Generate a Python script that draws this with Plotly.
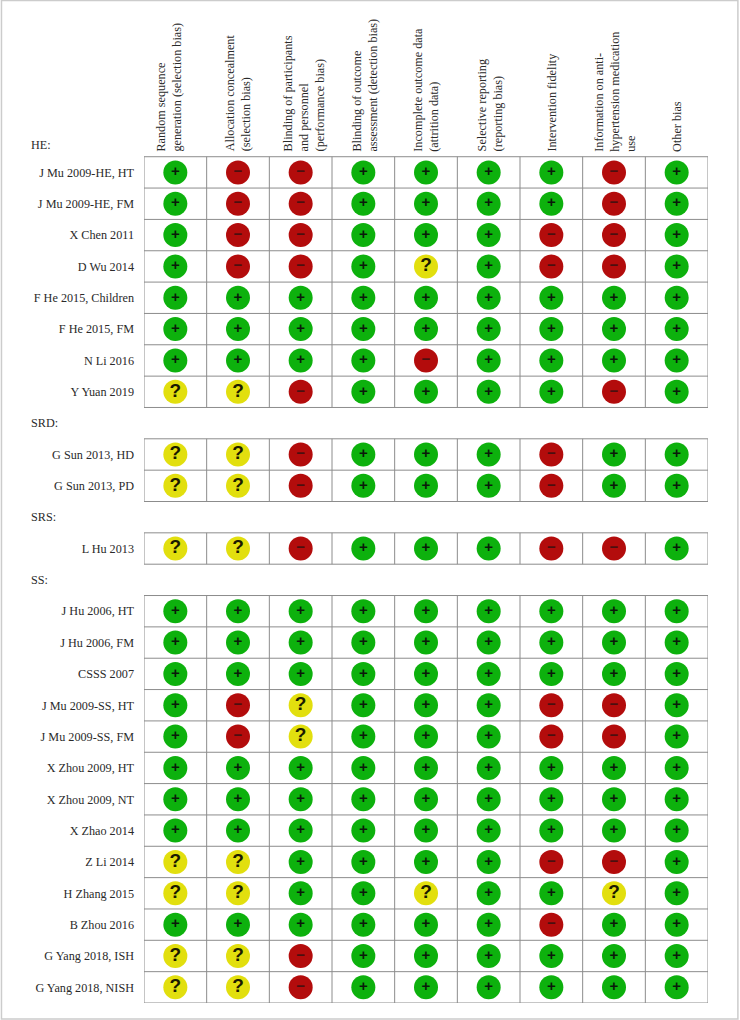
import plotly.graph_objects as go

P, M, U = "+", "\u2212", "?"

domains = [
    "Random sequence<br>generation (selection bias)",
    "Allocation concealment<br>(selection bias)",
    "Blinding of participants<br>and personnel<br>(performance bias)",
    "Blinding of outcome<br>assessment (detection bias)",
    "Incomplete outcome data<br>(attrition data)",
    "Selective reporting<br>(reporting bias)",
    "Intervention fidelity",
    "Information on anti-<br>hypertension medication<br>use",
    "Other bias",
]

he_studies = ["J Mu 2009-HE, HT", "J Mu 2009-HE, FM", "X Chen 2011", "D Wu 2014",
              "F He 2015, Children", "F He 2015, FM", "N Li 2016", "Y Yuan 2019"]
he_ratings = [
    [P, M, M, P, P, P, P, M, P],
    [P, M, M, P, P, P, P, M, P],
    [P, M, M, P, P, P, M, M, P],
    [P, M, M, P, U, P, M, M, P],
    [P, P, P, P, P, P, P, P, P],
    [P, P, P, P, P, P, P, P, P],
    [P, P, P, P, M, P, P, P, P],
    [U, U, M, P, P, P, P, M, P],
]
srd_studies = ["G Sun 2013, HD", "G Sun 2013, PD"]
srd_ratings = [
    [U, U, M, P, P, P, M, P, P],
    [U, U, M, P, P, P, M, P, P],
]
srs_studies = ["L Hu 2013"]
srs_ratings = [
    [U, U, M, P, P, P, M, M, P],
]
ss_studies = ["J Hu 2006, HT", "J Hu 2006, FM", "CSSS 2007", "J Mu 2009-SS, HT", "J Mu 2009-SS, FM",
              "X Zhou 2009, HT", "X Zhou 2009, NT", "X Zhao 2014", "Z Li 2014", "H Zhang 2015",
              "B Zhou 2016", "G Yang 2018, ISH", "G Yang 2018, NISH"]
ss_ratings = [
    [P, P, P, P, P, P, P, P, P],
    [P, P, P, P, P, P, P, P, P],
    [P, P, P, P, P, P, P, P, P],
    [P, M, U, P, P, P, M, M, P],
    [P, M, U, P, P, P, M, M, P],
    [P, P, P, P, P, P, P, P, P],
    [P, P, P, P, P, P, P, P, P],
    [P, P, P, P, P, P, P, P, P],
    [U, U, P, P, P, P, M, M, P],
    [U, U, P, P, U, P, P, U, P],
    [P, P, P, P, P, P, M, P, P],
    [U, U, M, P, P, P, P, P, P],
    [U, U, M, P, P, P, P, P, P],
]
groups = [("HE:", he_studies, he_ratings), ("SRD:", srd_studies, srd_ratings),
          ("SRS:", srs_studies, srs_ratings), ("SS:", ss_studies, ss_ratings)]

FONT = "Liberation Serif"
FSIZE = 12.2
INK = "#2a2a2a"
GRID = "#8c8c8c"
STYLE = {
    P: dict(color="#0DB10D", text="#0a1a0a", size=15),
    M: dict(color="#B30C0C", text="#4a1010", size=15),
    U: dict(color="#E2DF0E", text="#1a1a00", size=19),
}
head_shift = [-6, 0, 3, 2, 0, 1, 1, 1, 1]
group_shift = [-4, 0, 0, 0]

fig = go.Figure()
cells = {k: ([], []) for k in STYLE}
tickvals, ticktext, heads, gx, gy = [], [], [], [], []
slot = 0
for name, studies, ratings in groups:
    heads.append((name, slot))
    top = slot + 0.5
    for study, row in zip(studies, ratings):
        slot += 1
        tickvals.append(slot)
        ticktext.append(study)
        for c, r in enumerate(row):
            cells[r][0].append(c)
            cells[r][1].append(slot)
    bottom = slot + 0.5
    for i in range(int(top), int(bottom) + 1):
        gx += [-0.5, 8.5, None]
        gy += [i + 0.5, i + 0.5, None]
    for c in range(10):
        gx += [c - 0.5, c - 0.5, None]
        gy += [top, bottom, None]
    slot += 1

fig.add_trace(go.Scatter(x=gx, y=gy, mode="lines", line=dict(color=GRID, width=1),
                         hoverinfo="skip", showlegend=False, cliponaxis=False))
for k, st in STYLE.items():
    fig.add_trace(go.Scatter(
        x=cells[k][0], y=cells[k][1], mode="markers+text", text=[k] * len(cells[k][0]),
        textposition="middle center",
        textfont=dict(family="Liberation Sans", size=st["size"], color=st["text"], weight="bold"),
        marker=dict(size=24, color=st["color"], line=dict(width=0)),
        showlegend=False, cliponaxis=False))

ann = []
for c, d in enumerate(domains):
    ann.append(dict(x=c, y=0.5, xref="x", yref="y", text=d, textangle=-90, showarrow=False,
                    xanchor="center", yanchor="bottom", align="left", yshift=3, xshift=head_shift[c],
                    font=dict(family=FONT, size=FSIZE, color=INK)))
for g, (name, s) in enumerate(heads):
    ann.append(dict(x=-0.5, y=s, xref="x", yref="y", text=name, showarrow=False, xanchor="left",
                    yanchor="middle", xshift=-115, yshift=group_shift[g],
                    font=dict(family=FONT, size=FSIZE, color=INK)))

fig.update_layout(
    width=740, height=1020, margin=dict(l=144, r=32, t=0, b=17), autosize=False,
    paper_bgcolor="white", plot_bgcolor="white", annotations=ann,
    xaxis=dict(range=[-0.5, 8.5], visible=False, fixedrange=True),
    yaxis=dict(range=[27.5, -4.5], tickmode="array", tickvals=tickvals, ticktext=ticktext,
               showgrid=False, zeroline=False, showline=False, ticks="", ticklabelstandoff=9,
               tickfont=dict(family=FONT, size=FSIZE, color=INK), fixedrange=True),
    shapes=[dict(type="rect", xref="paper", yref="paper", x0=-0.2527, x1=1.053, y0=-0.016, y1=0.9995,
                 line=dict(color="#cccccc", width=1.5), layer="below")],
)
fig.write_html("out.html", config=dict(displayModeBar=False),
               post_script="document.body.style.margin='0';")
